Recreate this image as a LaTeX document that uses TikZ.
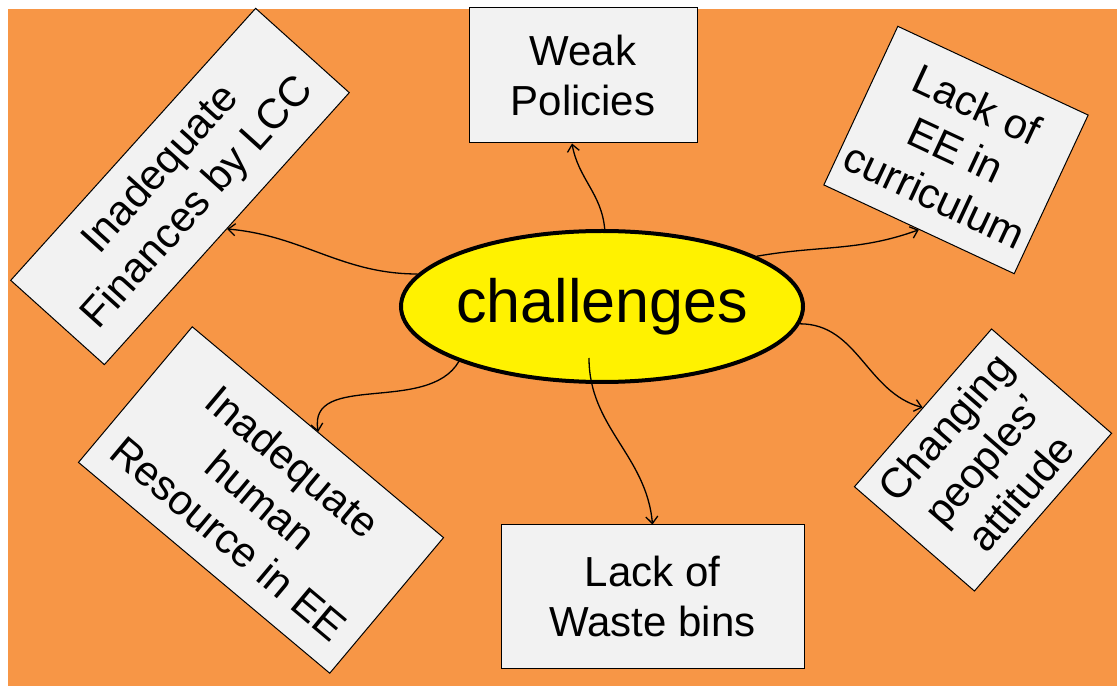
\documentclass[tikz,border=0pt]{standalone}
\usepackage{fontspec}
\setmainfont{Liberation Sans}
\usepackage{xcolor}
\usetikzlibrary{shapes.geometric,arrows.meta,positioning}
\definecolor{bgorange}{HTML}{F79646}
\definecolor{boxgray}{HTML}{F2F2F2}

\begin{document}
\begin{tikzpicture}[x=1pt,y=1pt,>={Straight Barb[length=7pt,width=12pt]}]
  \tikzstyle{every node}=[inner sep=0pt]
  \tikzstyle{cbox}=[draw,fill=boxgray,line width=1pt,align=center,font=\fontsize{42}{50}\selectfont]
  \fill[white] (0,0) rectangle (1117,686);
  \fill[bgorange] (8,0) rectangle (1117,677);
  \node[ellipse,draw,line width=4pt,fill=yellow,inner xsep=-4pt,minimum width=402pt,minimum height=151pt,font=\fontsize{61}{64}\selectfont] (ch) at (602,379.5) {challenges};
  \node[cbox,minimum width=228pt,minimum height=135pt] (pol) at (583,610.5) {Weak\\Policies};
  \node[cbox,minimum width=303pt,minimum height=143pt] (bins) at (652.5,89.5) {Lack of\\Waste bins};
  \node[cbox,rotate=48,minimum width=366pt,minimum height=126pt] (fin) at (180,499.5) {Inadequate\\Finances by LCC};
  \node[cbox,rotate=-25,minimum width=210pt,minimum height=175pt] (cur) at (956,536) {Lack of\\EE in\\curriculum};
  \node[cbox,rotate=-40,minimum width=328pt,minimum height=177pt] (hr) at (261,186) {Inadequate\\human\\Resource in EE};
  \node[cbox,rotate=49,minimum width=209pt,minimum height=159pt] (chg) at (983,226) {Changing\\peoples’\\attitude};
  \path[->,line width=1.3pt]
  (ch.88) edge[out=95,in=-80] ([xshift=-11pt]pol.south)
  (ch.170) edge[out=180,in=-5] (fin.south)
  (ch.18) edge[out=10,in=200] (cur.south)
  (ch.-5) edge[out=0,in=165] (chg.north)
  (ch.201) edge[out=240,in=100] (hr.north)
  ([xshift=-13pt,yshift=26pt]ch.south) edge[out=-90,in=95] (bins.north)
  ;
\end{tikzpicture}
\end{document}
